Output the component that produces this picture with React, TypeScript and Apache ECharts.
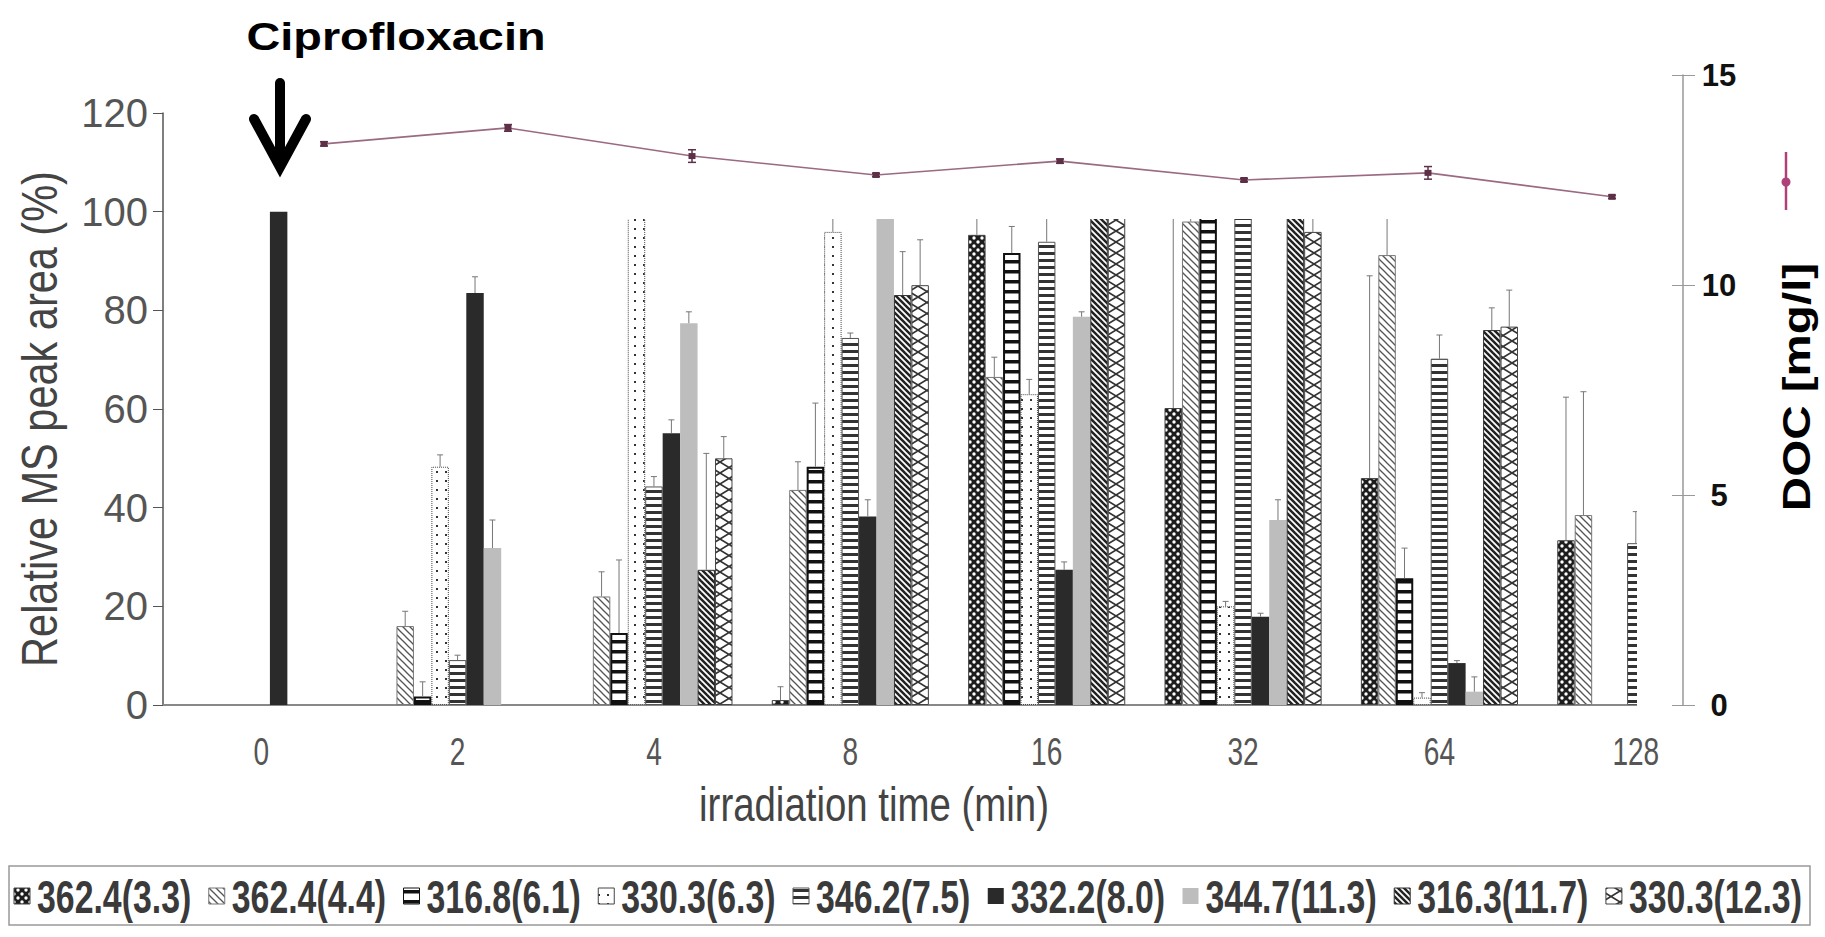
import React, { useEffect, useRef } from "react";
import * as echarts from "echarts";

// ---------- data ----------
const categories = ["0", "2", "4", "8", "16", "32", "64", "128"];
const seriesNames = [
  "362.4(3.3)",
  "362.4(4.4)",
  "316.8(6.1)",
  "330.3(6.3)",
  "346.2(7.5)",
  "332.2(8.0)",
  "344.7(11.3)",
  "316.3(11.7)",
  "330.3(12.3)",
];
// relative MS peak area (%) per compound, one value per irradiation time
const v362_4_33 = [0, 0, 0, 1.0, 95.3, 60.2, 46.0, 33.4];
const v362_4_44 = [0, 16.0, 22.0, 43.6, 66.5, 98.0, 91.2, 38.5];
const v316_8_61 = [0, 1.7, 14.6, 48.3, 91.6, 110, 25.7, 0];
const v330_3_63 = [0, 48.3, 110, 95.9, 63.0, 20.0, 1.5, 0];
const v346_2_75 = [0, 9.1, 44.3, 74.4, 93.9, 110, 70.2, 32.8];
const v332_2_80 = [100, 83.5, 55.1, 38.2, 27.4, 17.9, 8.5, 0];
const v344_7_113 = [0, 31.8, 77.4, 110, 78.7, 37.5, 2.7, 0];
const v316_3_117 = [0, 0, 27.4, 83.1, 110, 110, 76.0, 0];
const v330_3_123 = [0, 0, 50.0, 85.1, 110, 95.9, 76.7, 0];
// upper error (%)
const e362_4_33 = [0, 0, 0, 2.7, 4, 40, 41, 29];
const e362_4_44 = [0, 3, 5, 5.7, 4, 3, 8, 25];
const e316_8_61 = [0, 3, 14.8, 12.9, 5.4, 5, 6.1, 0];
const e330_3_63 = [0, 2.4, 5, 3, 3, 1, 1, 0];
const e346_2_75 = [0, 1, 2, 1, 5, 5, 4.8, 6.4];
const e332_2_80 = [0, 3.3, 2.7, 3.4, 1.6, 0.7, 0.5, 0];
const e344_7_113 = [0, 5.7, 2.3, 5, 1, 4.1, 3, 0];
const e316_3_117 = [0, 0, 23.6, 8.8, 5, 5, 4.5, 0];
const e330_3_123 = [0, 0, 4.4, 9.2, 5, 5, 7.4, 0];

const allValues = [v362_4_33, v362_4_44, v316_8_61, v330_3_63, v346_2_75, v332_2_80, v344_7_113, v316_3_117, v330_3_123];
const allErrors = [e362_4_33, e362_4_44, e316_8_61, e330_3_63, e346_2_75, e332_2_80, e344_7_113, e316_3_117, e330_3_123];

// DOC (mg/l)
const docValues = [13.36, 13.74, 13.07, 12.62, 12.95, 12.5, 12.67, 12.1];
const docErrors = [0.05, 0.08, 0.15, 0.04, 0.05, 0.04, 0.15, 0.04];

const leftAxis = { min: 0, max: 120, interval: 20 };
const rightAxis = { min: 0, max: 15, interval: 5 };

const titleText = "Ciprofloxacin";
const xName = "irradiation time (min)";
const yName = "Relative MS peak area (%)";
const docName = "DOC [mg/l]";

const SANS = "'Liberation Sans', Arial, sans-serif";

function tile(w: number, h: number, draw: (ctx: CanvasRenderingContext2D) => void): any {
  const c = document.createElement("canvas");
  c.width = w;
  c.height = h;
  const ctx = c.getContext("2d") as CanvasRenderingContext2D;
  ctx.fillStyle = "#ffffff";
  ctx.fillRect(0, 0, w, h);
  draw(ctx);
  return { image: c, repeat: "repeat", imageWidth: w, imageHeight: h };
}
function diag(ctx: CanvasRenderingContext2D, s: number, lw: number, color: string) {
  ctx.strokeStyle = color;
  ctx.lineWidth = lw;
  for (let k = -1; k <= 1; k++) {
    ctx.beginPath();
    ctx.moveTo(-1, k * s - 1);
    ctx.lineTo(s + 1, k * s + s + 1);
    ctx.stroke();
  }
}

function makeStyles(): any[] {
  const p1 = tile(8, 8, (ctx) => {
    ctx.fillStyle = "#1c1c1c";
    ctx.fillRect(0, 0, 8, 8);
    ctx.fillStyle = "#ffffff";
    for (const [x, y] of [[2, 2], [6, 6]]) {
      ctx.beginPath();
      ctx.arc(x, y, 1.7, 0, Math.PI * 2);
      ctx.fill();
    }
  });
  const p2 = tile(7, 7, (ctx) => diag(ctx, 7, 1.3, "#555"));
  const p3 = tile(9, 10, (ctx) => {
    ctx.fillStyle = "#111";
    ctx.fillRect(0, 0, 9, 3.5);
  });
  const p4 = tile(9, 9, (ctx) => {
    ctx.fillStyle = "#333";
    ctx.fillRect(4, 3, 2, 2);
  });
  const p5 = tile(8, 7, (ctx) => {
    ctx.fillStyle = "#333";
    ctx.fillRect(0, 0, 8, 3);
  });
  const p8 = tile(6, 6, (ctx) => diag(ctx, 6, 2.5, "#222"));
  const p9 = tile(18, 22, (ctx) => {
    ctx.strokeStyle = "#333";
    ctx.lineWidth = 1.6;
    ctx.beginPath();
    ctx.moveTo(0, 0);
    ctx.lineTo(18, 11);
    ctx.lineTo(0, 22);
    ctx.moveTo(18, 0);
    ctx.lineTo(0, 11);
    ctx.lineTo(18, 22);
    ctx.stroke();
  });
  return [
    { color: p1, borderColor: "#444", borderWidth: 1 },
    { color: p2, borderColor: "#777", borderWidth: 1 },
    { color: p3, borderColor: "#111", borderWidth: 2 },
    { color: p4, borderColor: "#444", borderWidth: 1, borderType: "dotted" },
    { color: p5, borderColor: "#555", borderWidth: 1 },
    { color: "#2a2a2a" },
    { color: "#bdbdbd" },
    { color: p8, borderColor: "#333", borderWidth: 1 },
    { color: p9, borderColor: "#444", borderWidth: 1 },
  ];
}

export default function App() {
  const ref = useRef<HTMLDivElement>(null);
  useEffect(() => {
    if (!ref.current) return;
    const chart = echarts.init(ref.current, undefined, { renderer: "svg" });
    const styles = makeStyles();
    const n = seriesNames.length;

    const barSeries: any[] = seriesNames.map((name, k) => ({
      name,
      type: "bar",
      xAxisIndex: 0,
      yAxisIndex: 0,
      barGap: "0%",
      barCategoryGap: "20%",
      itemStyle: styles[k],
      data: allValues[k].map((v) => (v === 0 ? null : v)),
      z: 2,
    }));

    const errSeries: any[] = seriesNames.map((name, k) => ({
      type: "custom",
      xAxisIndex: 0,
      yAxisIndex: 0,
      z: 3,
      silent: true,
      encode: { x: 0, y: 1 },
      data: categories.map((_, i) => [i, allValues[k][i], allErrors[k][i]]),
      renderItem: (params: any, api: any) => {
        const ci = api.value(0);
        const v = api.value(1);
        const e = api.value(2);
        if (!v || !e) return null;
        const base = api.coord([ci, v]);
        const top = api.coord([ci, v + e]);
        const band = api.size([1, 0])[0];
        const bw = (band * 0.8) / n;
        const x = base[0] - band * 0.4 + (k + 0.5) * bw;
        const st = { stroke: "#777", lineWidth: 1 };
        return {
          type: "group",
          children: [
            { type: "line", shape: { x1: x, y1: base[1], x2: x, y2: top[1] }, style: st },
            { type: "line", shape: { x1: x - 3, y1: top[1], x2: x + 3, y2: top[1] }, style: st },
          ],
        };
      },
    }));

    const baseElements: any[] = [
      // white panels of the composite figure
      { type: "rect", z: 10, silent: true, shape: { x: 291, y: 40, width: 1534, height: 179 }, style: { fill: "#ffffff" } },
      { type: "rect", z: 10, silent: true, shape: { x: 1637, y: 40, width: 188, height: 675 }, style: { fill: "#ffffff" } },
      // legend frame
      { type: "rect", z: 1, silent: true, shape: { x: 9, y: 866, width: 1801, height: 59 }, style: { fill: "none", stroke: "#999", lineWidth: 1.5 } },
      // title and arrow
      {
        type: "text", z: 30, x: 396, y: 36, scaleX: 1.2,
        style: { text: titleText, fontSize: 39, fontWeight: "bold", fontFamily: SANS, fill: "#000", align: "center", verticalAlign: "middle" },
      },
      { type: "line", z: 30, shape: { x1: 280, y1: 83, x2: 280, y2: 164 }, style: { stroke: "#000", lineWidth: 10, lineCap: "round" } },
      { type: "polyline", z: 30, shape: { points: [[254, 119], [280, 167], [306, 119]] }, style: { stroke: "#000", lineWidth: 10, lineCap: "round", lineJoin: "miter", fill: "none" } },
      // axis names (condensed look)
      {
        type: "text", z: 5, x: 40, y: 419, rotation: Math.PI / 2, scaleX: 0.83,
        style: { text: yName, fontSize: 50, fontFamily: SANS, fill: "#444", align: "center", verticalAlign: "middle" },
      },
      {
        type: "text", z: 5, x: 874, y: 804, scaleX: 0.8,
        style: { text: xName, fontSize: 48, fontFamily: SANS, fill: "#444", align: "center", verticalAlign: "middle" },
      },
      // DOC axis title
      {
        type: "text", z: 30, x: 1797, y: 387, rotation: Math.PI / 2, scaleX: 1.22,
        style: { text: docName, fontSize: 39, fontWeight: "bold", fontFamily: SANS, fill: "#000", align: "center", verticalAlign: "middle" },
      },
      // DOC legend marker
      { type: "line", z: 30, shape: { x1: 1786, y1: 152, x2: 1786, y2: 210 }, style: { stroke: "#b0407a", lineWidth: 2.5 } },
      { type: "circle", z: 30, shape: { cx: 1786, cy: 182, r: 4.5 }, style: { fill: "#b0407a" } },
    ];

    // legend laid out in one row inside the frame
    const legendFont = 47;
    const legendScale = 0.72;
    const mctx = document.createElement("canvas").getContext("2d") as CanvasRenderingContext2D;
    mctx.font = `bold ${legendFont}px 'Liberation Sans'`;
    const textW = seriesNames.map((s) => mctx.measureText(s).width * legendScale);
    const iconW = 16;
    const pad = 7;
    const startX = 14;
    const endX = 1802;
    const used = textW.reduce((a, b) => a + b, 0) + n * (iconW + pad);
    const gap = (endX - startX - used) / (n - 1);
    const legendY = 896;
    const legendEls: any[] = [];
    let lx = startX;
    seriesNames.forEach((name, k) => {
      legendEls.push({
        type: "rect", z: 5, silent: true,
        shape: { x: lx, y: legendY - 8, width: iconW, height: iconW },
        style: { fill: styles[k].color, stroke: styles[k].borderColor || "none", lineWidth: 1 },
      });
      legendEls.push({
        type: "text", z: 5, x: lx + iconW + pad, y: legendY + 1, scaleX: legendScale,
        style: { text: name, fontSize: legendFont, fontWeight: "bold", fontFamily: SANS, fill: "#3a3a3a", align: "left", verticalAlign: "middle" },
      });
      lx += iconW + pad + textW[k] + gap;
    });

    const option: any = {
      animation: false,
      backgroundColor: "#ffffff",
      grid: [
        { left: 163, right: 91, top: 113, bottom: 232 },
        { left: 324, right: 213, top: 75, bottom: 232 },
      ],
      xAxis: [
        {
          type: "category",
          gridIndex: 0,
          data: categories,
          axisLine: { lineStyle: { color: "#888", width: 2 } },
          axisTick: { show: false },
          axisLabel: { show: false },
        },
        { type: "category", gridIndex: 1, data: categories, boundaryGap: false, show: false },
      ],
      yAxis: [
        {
          type: "value",
          gridIndex: 0,
          min: leftAxis.min,
          max: leftAxis.max,
          interval: leftAxis.interval,
          axisLine: { show: true, lineStyle: { color: "#555", width: 1.5 } },
          axisTick: { show: true, length: 10, lineStyle: { color: "#555" } },
          splitLine: { show: false },
          axisLabel: { fontSize: 40, fontFamily: SANS, color: "#555", margin: 15 },
        },
        {
          type: "value",
          gridIndex: 1,
          position: "right",
          offset: 71,
          min: rightAxis.min,
          max: rightAxis.max,
          interval: rightAxis.interval,
          z: 20,
          axisLine: { show: true, lineStyle: { color: "#999", width: 1.5 } },
          axisTick: { show: true, length: 12, lineStyle: { color: "#999" } },
          splitLine: { show: false },
          axisLabel: { fontSize: 31, fontWeight: "bold", fontFamily: SANS, color: "#111", margin: 36, align: "center" },
        },
        {
          type: "value",
          gridIndex: 1,
          position: "right",
          offset: 71,
          min: rightAxis.min,
          max: rightAxis.max,
          interval: rightAxis.interval,
          z: 20,
          axisLine: { show: false },
          axisTick: { show: true, inside: true, length: 11, lineStyle: { color: "#999" } },
          axisLabel: { show: false },
          splitLine: { show: false },
        },
      ],
      graphic: { elements: [...baseElements, ...legendEls] },
      series: [
        ...barSeries,
        ...errSeries,
        {
          name: "DOC",
          type: "line",
          xAxisIndex: 1,
          yAxisIndex: 1,
          data: docValues,
          symbol: "rect",
          symbolSize: [7, 6],
          clip: false,
          z: 20,
          lineStyle: { color: "#9a6a80", width: 1.6 },
          itemStyle: { color: "#5e3048" },
        },
        {
          type: "custom",
          xAxisIndex: 1,
          yAxisIndex: 1,
          z: 21,
          silent: true,
          clip: false,
          encode: { x: 0, y: 1 },
          data: docValues.map((v, i) => [i, v, docErrors[i]]),
          renderItem: (params: any, api: any) => {
            const i = api.value(0);
            const v = api.value(1);
            const e = api.value(2);
            const lo = api.coord([i, v - e]);
            const hi = api.coord([i, v + e]);
            const st = { stroke: "#5e3048", lineWidth: 1.5 };
            return {
              type: "group",
              children: [
                { type: "line", shape: { x1: lo[0], y1: lo[1], x2: hi[0], y2: hi[1] }, style: st },
                { type: "line", shape: { x1: lo[0] - 4, y1: lo[1], x2: lo[0] + 4, y2: lo[1] }, style: st },
                { type: "line", shape: { x1: hi[0] - 4, y1: hi[1], x2: hi[0] + 4, y2: hi[1] }, style: st },
              ],
            };
          },
        },
      ],
    };
    chart.setOption(option);

    // category tick labels placed through the axis scale (condensed look)
    const xLabelEls: any[] = categories.map((c) => {
      const px = chart.convertToPixel({ xAxisIndex: 0 }, c) as unknown as number;
      return {
        type: "text", z: 5, x: px, y: 751, scaleX: 0.72,
        style: { text: c, fontSize: 39, fontFamily: SANS, fill: "#555", align: "center", verticalAlign: "middle" },
      };
    });
    chart.setOption({ graphic: { elements: [...baseElements, ...legendEls, ...xLabelEls] } });

    return () => chart.dispose();
  }, []);
  return <div ref={ref} style={{ position: "fixed", left: 0, top: 0, width: 1825, height: 937, background: "#fff" }} />;
}
